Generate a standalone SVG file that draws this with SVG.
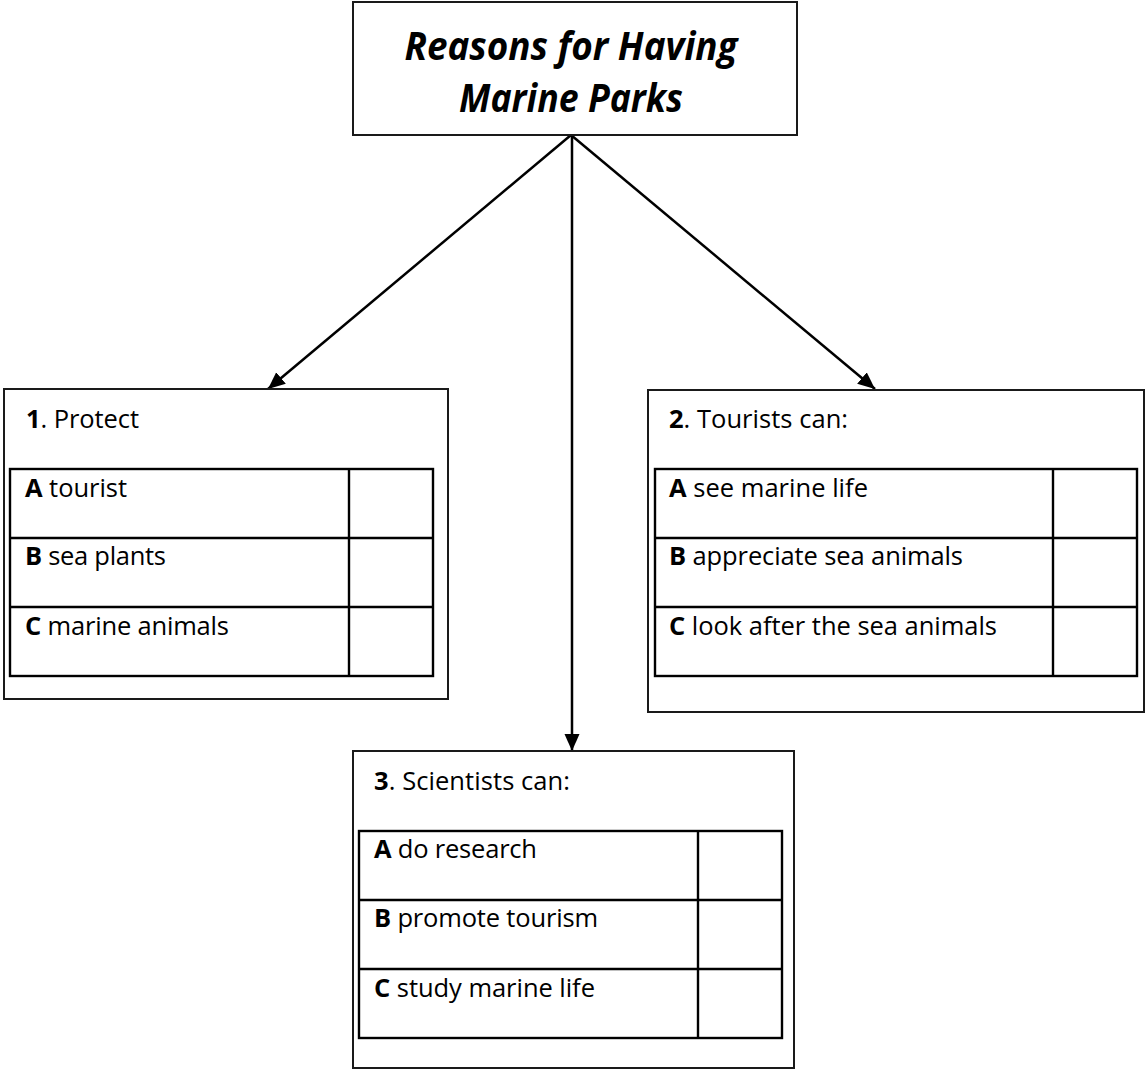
<svg xmlns="http://www.w3.org/2000/svg" width="1146" height="1071" viewBox="0 0 1146 1071">
<style>
.box{fill:#fff;stroke:#1a1a1a;stroke-width:2}
.tbl{fill:none;stroke:#000;stroke-width:2.4}
.t{font-family:"Open Sans","Liberation Sans",sans-serif;font-size:25.5px;fill:#000}
.title{font-family:"Open Sans","Liberation Sans",sans-serif;font-size:39px;font-weight:bold;font-style:italic;fill:#000}
.b{font-weight:bold}
.conn{stroke:#000;stroke-width:2.5;fill:none}
</style>
<defs>
<marker id="ah" markerUnits="userSpaceOnUse" markerWidth="18" markerHeight="16" refX="17" refY="7.5" orient="auto">
<path d="M0,0 L17,7.5 L0,15 z" fill="#000"/>
</marker>
</defs>
<rect width="1146" height="1071" fill="#fff"/>
<g id="connectors">
<line class="conn" x1="571" y1="135" x2="268" y2="389" marker-end="url(#ah)"/>
<line class="conn" x1="571" y1="135" x2="875" y2="389" marker-end="url(#ah)"/>
<line class="conn" x1="572" y1="135" x2="572" y2="751" marker-end="url(#ah)"/>
</g>
<g id="title">
<rect class="box" x="353" y="2" width="444" height="133"/>
<text class="title" x="571" y="60" text-anchor="middle" textLength="333" lengthAdjust="spacingAndGlyphs">Reasons for Having</text>
<text class="title" x="571" y="112" text-anchor="middle" textLength="224" lengthAdjust="spacingAndGlyphs">Marine Parks</text>
</g>
<g id="node1">
<rect class="box" x="4" y="389" width="444" height="310"/>
<text class="t" x="26" y="428" textLength="113"><tspan class="b">1</tspan>. Protect</text>
<rect class="tbl" x="10" y="469" width="423" height="207"/>
<line class="tbl" x1="10" y1="538" x2="433" y2="538"/>
<line class="tbl" x1="10" y1="607" x2="433" y2="607"/>
<line class="tbl" x1="349" y1="469" x2="349" y2="676"/>
<text class="t" x="25" y="497" textLength="102"><tspan class="b">A</tspan> tourist</text>
<text class="t" x="25" y="565" textLength="141"><tspan class="b">B</tspan> sea plants</text>
<text class="t" x="25" y="635" textLength="204"><tspan class="b">C</tspan> marine animals</text>
</g>
<g id="node2">
<rect class="box" x="648" y="390" width="496" height="322"/>
<text class="t" x="669" y="428" textLength="179"><tspan class="b">2</tspan>. Tourists can:</text>
<rect class="tbl" x="655" y="469" width="482" height="207"/>
<line class="tbl" x1="655" y1="538" x2="1137" y2="538"/>
<line class="tbl" x1="655" y1="607" x2="1137" y2="607"/>
<line class="tbl" x1="1053" y1="469" x2="1053" y2="676"/>
<text class="t" x="669" y="497" textLength="199"><tspan class="b">A</tspan> see marine life</text>
<text class="t" x="669" y="565" textLength="294"><tspan class="b">B</tspan> appreciate sea animals</text>
<text class="t" x="669" y="635" textLength="328"><tspan class="b">C</tspan> look after the sea animals</text>
</g>
<g id="node3">
<rect class="box" x="353" y="751" width="441" height="317"/>
<text class="t" x="374" y="790" textLength="196"><tspan class="b">3</tspan>. Scientists can:</text>
<rect class="tbl" x="359" y="831" width="423" height="207"/>
<line class="tbl" x1="359" y1="900" x2="782" y2="900"/>
<line class="tbl" x1="359" y1="969" x2="782" y2="969"/>
<line class="tbl" x1="698" y1="831" x2="698" y2="1038"/>
<text class="t" x="374" y="858" textLength="163"><tspan class="b">A</tspan> do research</text>
<text class="t" x="374" y="927" textLength="224"><tspan class="b">B</tspan> promote tourism</text>
<text class="t" x="374" y="997" textLength="221"><tspan class="b">C</tspan> study marine life</text>
</g>
</svg>
